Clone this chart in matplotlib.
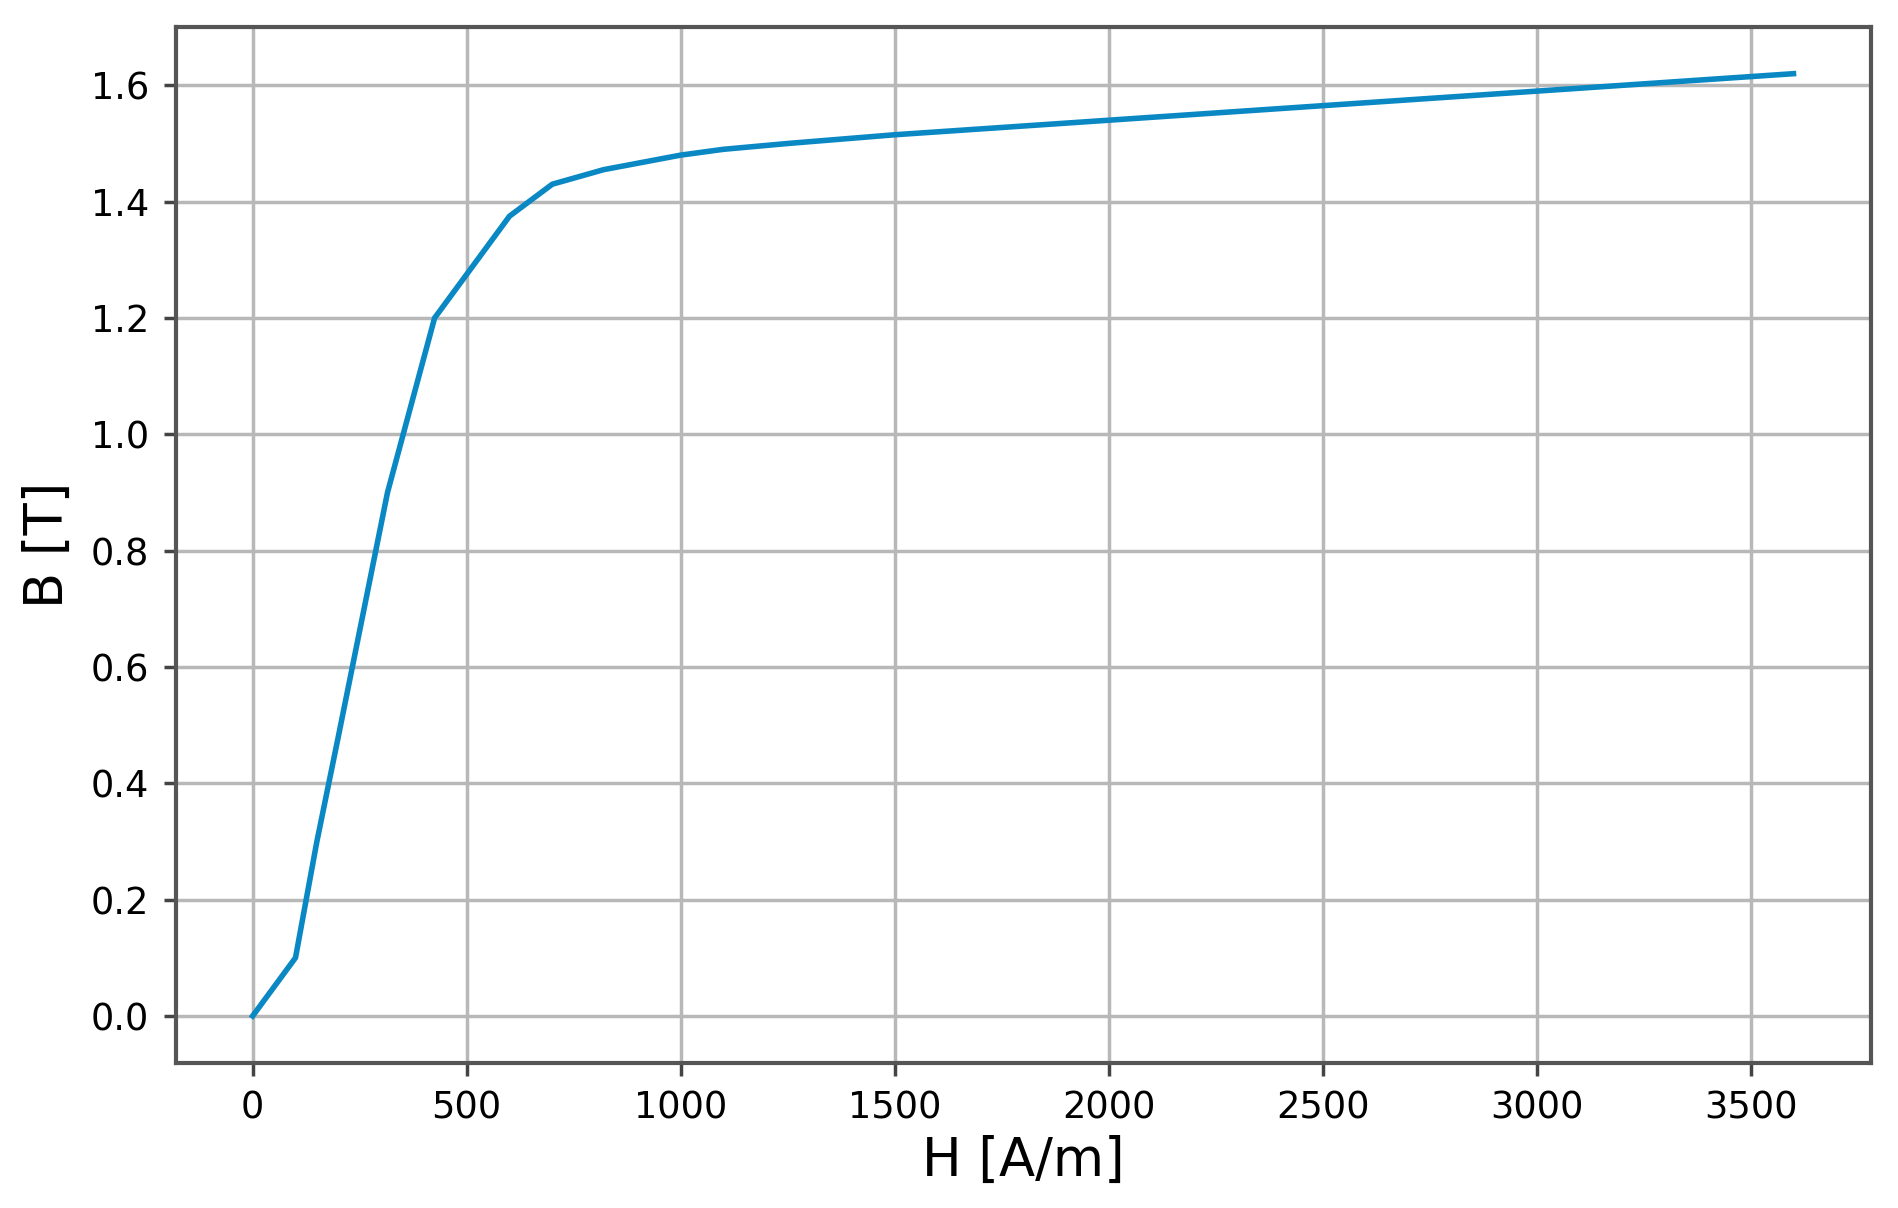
import numpy as np
import matplotlib
matplotlib.use('Agg')
import matplotlib.pyplot as plt

# B-H curve
H = [0, 100, 150, 200, 315, 425, 600, 700, 820, 1000,
     1100, 1250, 1500, 2000, 2500, 3000, 3600]
B = [0.0, 0.1, 0.3, 0.48, 0.9, 1.2, 1.375, 1.43, 1.455, 1.48,
     1.49, 1.5, 1.515, 1.54, 1.565, 1.59, 1.62]

fig = plt.figure(figsize=(18.99, 12.08), dpi=100)
ax = fig.add_axes([0.0925, 0.12, 0.8925, 0.858])

ax.plot(H, B, color='#0a88c4', linewidth=4)
ax.grid(True, color='#b8b8b8', linewidth=2.5)
ax.set_xticks(np.arange(0, 3501, 500))
ax.set_yticks(np.arange(0, 1.61, 0.2))
ax.tick_params(labelsize=26.5, length=9, width=2.5, color='#444444', pad=10)
for s in ax.spines.values():
    s.set_linewidth(3)
    s.set_color('#555555')

ax.set_xlabel('H [A/m]', fontsize=38, labelpad=6)
ax.set_ylabel('B [T]', fontsize=38, labelpad=12)

plt.savefig('out.png', dpi=100)
